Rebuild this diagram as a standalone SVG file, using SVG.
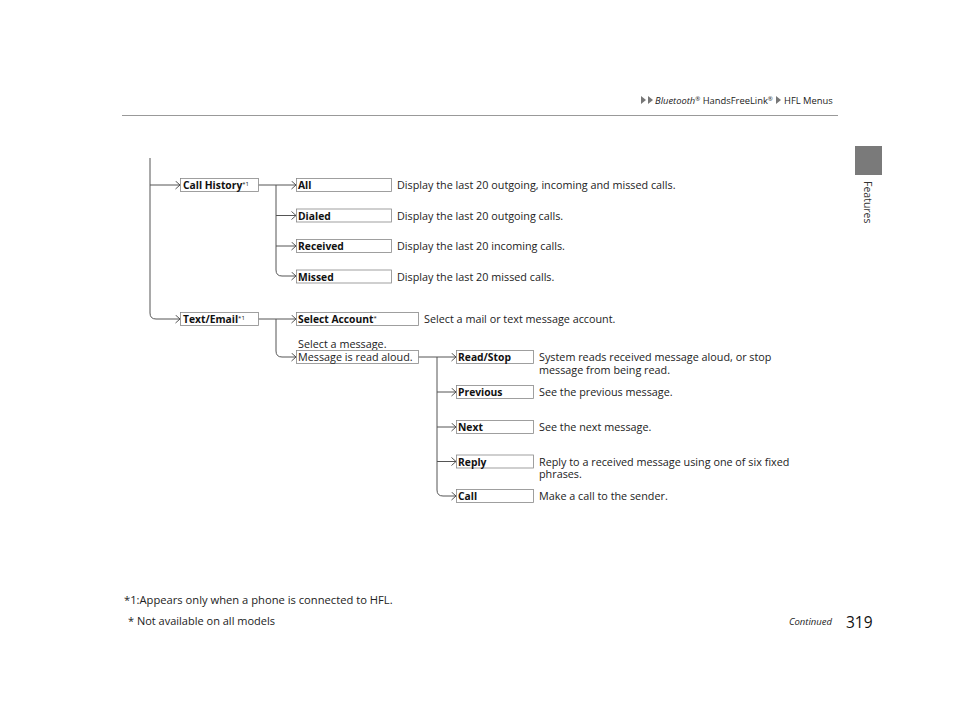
<svg xmlns="http://www.w3.org/2000/svg" width="960" height="722" viewBox="0 0 960 722">
<defs>
<style>
.t{font-family:"Open Sans","Noto Sans",sans-serif;font-size:10.8px;fill:#222}
.b{font-family:"Open Sans","Noto Sans",sans-serif;font-size:10.3px;font-weight:bold;fill:#111}
.bx{fill:#fff;stroke:#888;stroke-width:0.8}
.ln{fill:none;stroke:#555;stroke-width:1}
.sup{font-size:6px;font-weight:normal}
</style>
<marker id="ch" markerWidth="6" markerHeight="9" refX="5" refY="4.5" orient="auto" markerUnits="userSpaceOnUse">
<path d="M0.5,0.5 L5,4.5 L0.5,8.5" fill="none" stroke="#444" stroke-width="0.9"/>
</marker>
</defs>
<rect width="960" height="722" fill="#fff"/>

<g id="header">
<path d="M641,96 l5,4 l-5,4z M648,96 l5,4 l-5,4z" fill="#777"/>
<text x="655" y="104" class="t" style="font-size:9.4px"><tspan font-style="italic">Bluetooth</tspan><tspan class="sup" dy="-3">®</tspan><tspan dy="3"> HandsFreeLink</tspan><tspan class="sup" dy="-3">®</tspan></text>
<path d="M776,96 l5,4 l-5,4z" fill="#777"/>
<text x="784" y="104" class="t" style="font-size:9.4px">HFL Menus</text>
<line x1="122" y1="115.5" x2="838" y2="115.5" stroke="#999" stroke-width="1"/>
</g>

<g id="sidebar">
<rect x="855" y="146" width="27" height="29" fill="#7a7a7a"/>
<text transform="translate(864,181) rotate(90)" class="t" style="font-size:10.5px;fill:#333">Features</text>
</g>

<g id="connectors">
<path class="ln" d="M150,158 V313 q0,6 6,6 H180" marker-end="url(#ch)"/>
<path class="ln" d="M150,185 H180" marker-end="url(#ch)"/>
<path class="ln" d="M258,185 H296" marker-end="url(#ch)"/>
<path class="ln" d="M276,185 V270 q0,6 6,6 H296" marker-end="url(#ch)"/>
<path class="ln" d="M276,215.5 H296" marker-end="url(#ch)"/>
<path class="ln" d="M276,246 H296" marker-end="url(#ch)"/>
<path class="ln" d="M258,319 H296" marker-end="url(#ch)"/>
<path class="ln" d="M276,319 V351 q0,6 6,6 H296" marker-end="url(#ch)"/>
<path class="ln" d="M418,357 H456" marker-end="url(#ch)"/>
<path class="ln" d="M437,357 V490 q0,6 6,6 H456" marker-end="url(#ch)"/>
<path class="ln" d="M437,392 H456" marker-end="url(#ch)"/>
<path class="ln" d="M437,427 H456" marker-end="url(#ch)"/>
<path class="ln" d="M437,461.5 H456" marker-end="url(#ch)"/>
</g>

<g id="call-history"><rect class="bx" x="180.5" y="178.5" width="78" height="13"/><text x="183" y="189" class="b">Call History<tspan class="sup" dy="-3">*1</tspan></text></g>
<g id="all"><rect class="bx" x="296.5" y="178.5" width="95" height="13"/><text x="298" y="189" class="b">All</text><text x="397" y="189" class="t">Display the last 20 outgoing, incoming and missed calls.</text></g>
<g id="dialed"><rect class="bx" x="296.5" y="209" width="95" height="13"/><text x="298" y="219.5" class="b">Dialed</text><text x="397" y="219.5" class="t">Display the last 20 outgoing calls.</text></g>
<g id="received"><rect class="bx" x="296.5" y="239.5" width="95" height="13"/><text x="298" y="250" class="b">Received</text><text x="397" y="250" class="t">Display the last 20 incoming calls.</text></g>
<g id="missed"><rect class="bx" x="296.5" y="270" width="95" height="13"/><text x="298" y="280.5" class="b">Missed</text><text x="397" y="280.5" class="t">Display the last 20 missed calls.</text></g>

<g id="text-email"><rect class="bx" x="180.5" y="312.5" width="78" height="13"/><text x="183" y="323" class="b">Text/Email<tspan class="sup" dy="-3">*1</tspan></text></g>
<g id="select-account"><rect class="bx" x="296.5" y="312.5" width="122" height="13"/><text x="298" y="323" class="b">Select Account<tspan class="sup" dy="-3">*</tspan></text><text x="424" y="323" class="t">Select a mail or text message account.</text></g>
<g id="message"><text x="298" y="347.5" class="t">Select a message.</text><rect class="bx" x="296.5" y="350.5" width="122" height="13"/><text x="298" y="361" class="t">Message is read aloud.</text></g>

<g id="read-stop"><rect class="bx" x="456.5" y="350.5" width="77" height="13"/><text x="458" y="361" class="b">Read/Stop</text><text x="539" y="361" class="t">System reads received message aloud, or stop<tspan x="539" dy="12.5">message from being read.</tspan></text></g>
<g id="previous"><rect class="bx" x="456.5" y="385.5" width="77" height="13"/><text x="458" y="396" class="b">Previous</text><text x="539" y="396" class="t">See the previous message.</text></g>
<g id="next"><rect class="bx" x="456.5" y="420.5" width="77" height="13"/><text x="458" y="431" class="b">Next</text><text x="539" y="431" class="t">See the next message.</text></g>
<g id="reply"><rect class="bx" x="456.5" y="455" width="77" height="13"/><text x="458" y="465.5" class="b">Reply</text><text x="539" y="465.5" class="t">Reply to a received message using one of six fixed<tspan x="539" dy="12.5">phrases.</tspan></text></g>
<g id="call"><rect class="bx" x="456.5" y="489.5" width="77" height="13"/><text x="458" y="500" class="b">Call</text><text x="539" y="500" class="t">Make a call to the sender.</text></g>

<g id="footer">
<text x="124" y="604" class="t" style="font-size:11.2px">*1:Appears only when a phone is connected to HFL.</text>
<text x="128" y="625" class="t" style="font-size:11px">* Not available on all models</text>
<text x="832" y="625" class="t" style="font-size:9.5px;font-style:italic" text-anchor="end">Continued</text>
<text x="846" y="628" class="t" style="font-size:15.5px;fill:#111">319</text>
</g>
</svg>
